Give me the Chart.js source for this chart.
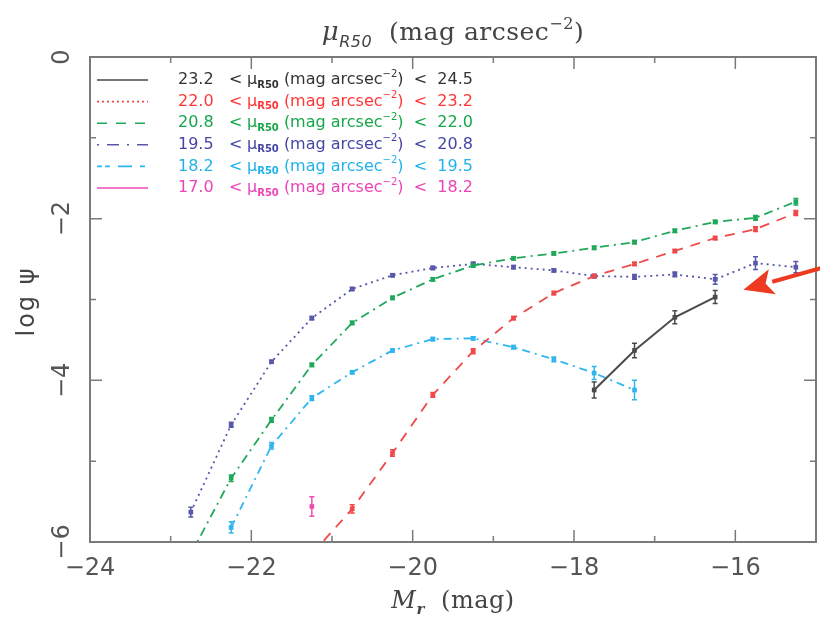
<!DOCTYPE html>
<html>
<head>
<meta charset="utf-8">
<script src="https://cdn.jsdelivr.net/npm/chart.js@4.4.0/dist/chart.umd.min.js"></script>
<style>
  html, body { margin: 0; padding: 0; background: #fff; }
  #wrap { width: 820px; height: 638px; }
</style>
</head>
<body>
<div id="wrap"><canvas id="lfChart" width="820" height="638"></canvas></div>
<script>
// bins in absolute magnitude M_r
const magBins = [-22.75, -22.25, -21.75, -21.25, -20.75, -20.25, -19.75, -19.25, -18.75, -18.25, -17.75, -17.25, -16.75, -16.25, -15.75, -15.25];
const xTicks = [-24, -22, -20, -18, -16];
const xMinor = [-23, -21, -19, -17];
const yTicks = [0, -2, -4, -6];
const yMinor = [-1, -3, -5];

// surface brightness ranges (legend)
const muLow = ["23.2", "22.0", "20.8", "19.5", "18.2", "17.0"];
const muHigh = ["24.5", "23.2", "22.0", "20.8", "19.5", "18.2"];

// log psi per bin, one array per mu_R50 range
const psi232 = [null, null, null, null, null, null, null, null, null, null, -4.12, -3.63, -3.22, -2.97, null, null];
const err232 = [0, 0, 0, 0, 0, 0, 0, 0, 0, 0, 0.10, 0.09, 0.08, 0.08, 0, 0];
const psi220 = [null, null, null, -6.15, -5.59, -4.90, -4.18, -3.64, -3.23, -2.92, -2.71, -2.56, -2.40, -2.24, -2.13, -1.93];
const err220 = [0, 0, 0, 0, 0.05, 0.04, 0.03, 0.03, 0.02, 0.02, 0.02, 0.02, 0.02, 0.02, 0.03, 0.03];
const psi208 = [-6.15, -5.21, -4.49, -3.81, -3.29, -2.98, -2.75, -2.58, -2.49, -2.43, -2.36, -2.29, -2.15, -2.04, -1.99, -1.79];
const err208 = [0, 0.04, 0.03, 0.02, 0.02, 0.02, 0.02, 0.02, 0.02, 0.02, 0.02, 0.02, 0.02, 0.02, 0.03, 0.04];
const psi195 = [-5.63, -4.55, -3.77, -3.23, -2.87, -2.70, -2.61, -2.56, -2.60, -2.64, -2.71, -2.72, -2.69, -2.75, -2.55, -2.60];
const err195 = [0.06, 0.03, 0.02, 0.02, 0.02, 0.02, 0.02, 0.02, 0.02, 0.02, 0.02, 0.03, 0.03, 0.06, 0.08, 0.07];
const psi182 = [null, -5.82, -4.81, -4.22, -3.90, -3.63, -3.49, -3.48, -3.59, -3.74, -3.91, -4.12, null, null, null, null];
const err182 = [0, 0.07, 0.04, 0.03, 0.02, 0.02, 0.02, 0.02, 0.02, 0.03, 0.08, 0.12, 0, 0, 0, 0];
const psi170 = [null, null, null, -5.56, null, null, null, null, null, null, null, null, null, null, null, null];
const err170 = [0, 0, 0, 0.12, 0, 0, 0, 0, 0, 0, 0, 0, 0, 0, 0, 0];

// red arrow annotation (data units)
const arrowTail = { x: -14.93, y: -2.61 };
const arrowTip = { x: -15.90, y: -2.88 };

const lineColors = ["#4a4a4a", "#f04848", "#1fa85a", "#5858aa", "#30b6ee", "#ee4cb4"];
const textColors = ["#333333", "#ff3636", "#17a64a", "#4646a6", "#22b2ea", "#ec44b6"];
const plotDash = [[], [10, 8], [9, 5, 2, 5], [2, 4], [8, 5, 2, 5], []];
const legendDash = [[], [2, 3], [10, 9], [2, 8, 12, 8], [5, 3, 5, 8, 14, 8], []];

function toPoints(vals) {
  return magBins.map((m, i) => ({ x: m, y: vals[i] }));
}

const allPsi = [psi232, psi220, psi208, psi195, psi182, psi170];
const allErr = [err232, err220, err208, err195, err182, err170];

const datasets = allPsi.map((vals, i) => ({
  label: muLow[i] + " < mu < " + muHigh[i],
  data: toPoints(vals),
  errors: allErr[i],
  borderColor: lineColors[i],
  backgroundColor: lineColors[i],
  borderWidth: i === 0 ? 2 : 1.8,
  borderDash: plotDash[i],
  pointStyle: "rect",
  pointRadius: 3.3,
  pointBorderWidth: 0,
  spanGaps: false,
  tension: 0
}));

function drawRich(ctx, parts, x, y, align) {
  let total = 0;
  parts.forEach(p => { ctx.font = p.font; p.w = ctx.measureText(p.text).width; total += p.w; });
  let cx = align === "center" ? x - total / 2 : x;
  parts.forEach(p => {
    ctx.font = p.font;
    if (p.color) ctx.fillStyle = p.color;
    ctx.fillText(p.text, cx, y + (p.dy || 0));
    cx += p.w;
  });
  return cx;
}

const pgPlot = {
  id: "pgPlot",
  beforeDatasetsDraw(chart) {
    const { ctx, scales: { x, y } } = chart;
    ctx.save();
    chart.data.datasets.forEach(ds => {
      ctx.strokeStyle = ds.borderColor;
      ctx.lineWidth = 1.5;
      ds.data.forEach((p, i) => {
        const e = ds.errors[i];
        if (p.y === null || !e || p.y < -6 || p.y > 0) return;
        const px = x.getPixelForValue(p.x);
        const y1 = y.getPixelForValue(p.y - e), y2 = y.getPixelForValue(p.y + e);
        ctx.beginPath();
        ctx.moveTo(px, y1); ctx.lineTo(px, y2);
        ctx.moveTo(px - 2.5, y1); ctx.lineTo(px + 2.5, y1);
        ctx.moveTo(px - 2.5, y2); ctx.lineTo(px + 2.5, y2);
        ctx.stroke();
      });
    });
    ctx.restore();
  },
  afterDraw(chart) {
    const { ctx, chartArea: a, scales: { x, y } } = chart;
    ctx.save();

    // frame and inward ticks on all four sides
    ctx.strokeStyle = "#7a7a7a";
    ctx.lineWidth = 2;
    ctx.strokeRect(a.left, a.top, a.right - a.left, a.bottom - a.top);
    ctx.lineWidth = 1.5;
    ctx.beginPath();
    const xt = [...xTicks.map(v => [v, 12]), ...xMinor.map(v => [v, 6])];
    xt.forEach(([v, len]) => {
      const px = x.getPixelForValue(v);
      ctx.moveTo(px, a.bottom); ctx.lineTo(px, a.bottom - len);
      ctx.moveTo(px, a.top); ctx.lineTo(px, a.top + len);
    });
    const yt = [...yTicks.map(v => [v, 12]), ...yMinor.map(v => [v, 6])];
    yt.forEach(([v, len]) => {
      const py = y.getPixelForValue(v);
      ctx.moveTo(a.left, py); ctx.lineTo(a.left + len, py);
      ctx.moveTo(a.right, py); ctx.lineTo(a.right - len, py);
    });
    ctx.stroke();

    // rotated y tick labels
    ctx.fillStyle = "#555";
    ctx.font = "24px 'DejaVu Sans'";
    ctx.textAlign = "center";
    ctx.textBaseline = "middle";
    yTicks.forEach(v => {
      ctx.save();
      ctx.translate(63, y.getPixelForValue(v));
      ctx.rotate(-Math.PI / 2);
      ctx.fillText(v === 0 ? "0" : "\u2212" + Math.abs(v), 0, 0);
      ctx.restore();
    });

    // y axis title
    ctx.save();
    ctx.translate(28, (a.top + a.bottom) / 2 + 2);
    ctx.rotate(-Math.PI / 2);
    ctx.fillStyle = "#444";
    ctx.font = "24px 'DejaVu Sans'";
    ctx.letterSpacing = "2px";
    ctx.fillText("log \u03c8", 0, 0);
    ctx.restore();

    // top title and x title
    ctx.textAlign = "left";
    ctx.textBaseline = "alphabetic";
    ctx.fillStyle = "#444";
    const serif = "'DejaVu Serif'";
    ctx.letterSpacing = "0.5px";
    drawRich(ctx, [
      { text: "\u03bc", font: "italic 26px " + serif },
      { text: "R50", font: "italic 16px 'DejaVu Sans'", dy: 7 },
      { text: "  (mag arcsec", font: "25px " + serif },
      { text: "\u22122", font: "16px " + serif, dy: -11 },
      { text: ")", font: "25px " + serif }
    ], (a.left + a.right) / 2, 40, "center");
    drawRich(ctx, [
      { text: "M", font: "italic 24px " + serif },
      { text: "r", font: "italic bold 15px " + serif, dy: 6 },
      { text: "  (mag)", font: "24px " + serif }
    ], (a.left + a.right) / 2, 608, "center");
    ctx.letterSpacing = "0px";

    // legend
    ctx.textBaseline = "middle";
    muLow.forEach((lo, i) => {
      const ry = 80 + i * 21.6;
      ctx.strokeStyle = lineColors[i];
      ctx.lineWidth = 1.6;
      ctx.setLineDash(legendDash[i]);
      ctx.beginPath();
      ctx.moveTo(97, ry); ctx.lineTo(148, ry);
      ctx.stroke();
      ctx.setLineDash([]);
      ctx.fillStyle = textColors[i];
      ctx.font = "16px 'DejaVu Sans'";
      ctx.fillText(lo, 178, ry);
      ctx.fillText("<", 229, ry);
      drawRich(ctx, [
        { text: "\u03bc", font: "16px 'DejaVu Sans'" },
        { text: "R50", font: "bold 10px 'DejaVu Sans'", dy: 5 },
        { text: " (mag arcsec", font: "16px 'DejaVu Sans'" },
        { text: "\u22122", font: "10px 'DejaVu Sans'", dy: -6 },
        { text: ")  <  " + muHigh[i], font: "16px 'DejaVu Sans'" }
      ], 247, ry, "left");
    });

    // red arrow
    const tx = x.getPixelForValue(arrowTip.x), ty = y.getPixelForValue(arrowTip.y);
    const sx = x.getPixelForValue(arrowTail.x), sy = y.getPixelForValue(arrowTail.y);
    const ang = Math.atan2(sy - ty, sx - tx);
    const hl = 30, hw = 13;
    const bx = tx + Math.cos(ang) * hl, by = ty + Math.sin(ang) * hl;
    ctx.strokeStyle = "#ee3a20";
    ctx.fillStyle = "#ee3a20";
    ctx.lineWidth = 4;
    ctx.beginPath();
    ctx.moveTo(sx, sy); ctx.lineTo(bx, by);
    ctx.stroke();
    ctx.beginPath();
    ctx.moveTo(tx, ty);
    ctx.lineTo(bx - Math.sin(ang) * hw, by + Math.cos(ang) * hw);
    ctx.lineTo(tx + Math.cos(ang) * (hl - 7), ty + Math.sin(ang) * (hl - 7));
    ctx.lineTo(bx + Math.sin(ang) * hw, by - Math.cos(ang) * hw);
    ctx.closePath();
    ctx.fill();

    ctx.restore();
  }
};

new Chart(document.getElementById("lfChart").getContext("2d"), {
  type: "line",
  data: { datasets },
  options: {
    responsive: false,
    animation: false,
    layout: { padding: { top: 57, right: 2, left: 0, bottom: 0 } },
    plugins: { legend: { display: false }, tooltip: { enabled: false } },
    scales: {
      x: {
        type: "linear",
        min: -24,
        max: -15,
        afterBuildTicks: s => { s.ticks = xTicks.map(v => ({ value: v })); },
        afterFit: s => { s.height = 96; },
        grid: { display: false, drawTicks: false },
        border: { display: false },
        ticks: {
          color: "#555",
          padding: 12,
          font: { family: "DejaVu Sans", size: 24 },
          callback: v => "\u2212" + Math.abs(v)
        }
      },
      y: {
        min: -6,
        max: 0,
        afterBuildTicks: s => { s.ticks = yTicks.map(v => ({ value: v })); },
        afterFit: s => { s.width = 90; },
        grid: { display: false, drawTicks: false },
        border: { display: false },
        ticks: { display: false }
      }
    }
  },
  plugins: [pgPlot]
});
</script>
</body>
</html>
